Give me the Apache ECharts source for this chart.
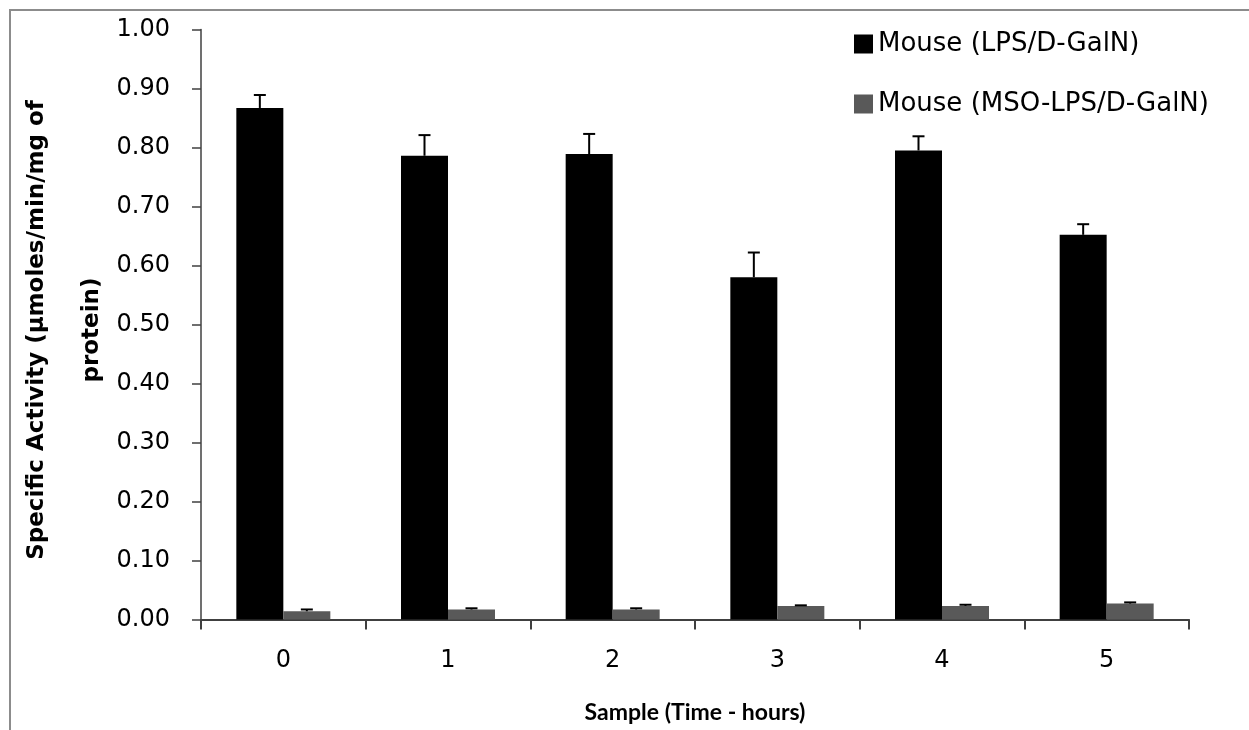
<!DOCTYPE html>
<html>
<head>
<meta charset="utf-8">
<script src="https://cdn.jsdelivr.net/npm/echarts@6/dist/echarts.min.js"></script>
<style>
html,body{margin:0;padding:0;background:#fff;}
#c{width:1249px;height:730px;}
</style>
</head>
<body>
<div id="c"></div>
<script>
const categories = ['0', '1', '2', '3', '4', '5'];
const seriesNames = ['Mouse (LPS/D-GalN)', 'Mouse (MSO-LPS/D-GalN)'];
const lpsValues = [0.867, 0.786, 0.789, 0.580, 0.795, 0.652];
const lpsErrors = [0.022, 0.035, 0.034, 0.042, 0.024, 0.018];
const msoValues = [0.014, 0.017, 0.017, 0.023, 0.023, 0.027];
const msoErrors = [0.003, 0.002, 0.002, 0.001, 0.002, 0.002];
const yTitleLines = ['Specific Activity (\u00b5moles/min/mg of', 'protein)'];
const xTitle = 'Sample (Time - hours)';

const FONT = 'DejaVu Sans';
const BAR_W = 47;

function errRenderer(offset, capHalf, lw) {
  return function (params, api) {
    const i = api.value(0);
    const v = api.value(1);
    const e = api.value(2);
    const x = api.coord([i, 0])[0] + offset;
    const yb = api.coord([i, v])[1];
    const yt = api.coord([i, v + e])[1];
    return {
      type: 'group',
      children: [
        { type: 'line', shape: { x1: x, y1: yb, x2: x, y2: yt }, style: { stroke: '#000', lineWidth: lw } },
        { type: 'line', shape: { x1: x - capHalf, y1: yt, x2: x + capHalf, y2: yt }, style: { stroke: '#000', lineWidth: lw } }
      ]
    };
  };
}

const chart = echarts.init(document.getElementById('c'), null, { renderer: 'canvas' });
chart.setOption({
  animation: false,
  backgroundColor: '#fff',
  graphic: [
    { type: 'rect', shape: { x: 10, y: 10, width: 1400, height: 900 }, style: { fill: 'none', stroke: '#8c8c8c', lineWidth: 2 }, z: -1 },
    { type: 'text', x: 37, y: 330, rotation: Math.PI / 2, style: { text: yTitleLines[0], font: 'bold 23px "' + FONT + '"', fill: '#000', align: 'center', verticalAlign: 'middle' } },
    { type: 'text', x: 92, y: 330, rotation: Math.PI / 2, style: { text: yTitleLines[1], font: 'bold 23px "' + FONT + '"', fill: '#000', align: 'center', verticalAlign: 'middle' } },
    { type: 'text', x: 695, y: 713, style: { text: xTitle, font: 'bold 23px "Lato"', fill: '#000', align: 'center', verticalAlign: 'middle' } }
  ],
  legend: {
    data: seriesNames,
    orient: 'vertical',
    left: 849,
    top: 26,
    itemWidth: 19,
    itemHeight: 19,
    itemGap: 34,
    icon: 'rect',
    textStyle: { fontFamily: FONT, fontSize: 26, color: '#000' }
  },
  grid: { left: 201, right: 60, top: 29.5, bottom: 110.5, containLabel: false },
  xAxis: {
    type: 'category',
    data: categories,
    axisLine: { lineStyle: { color: '#404040', width: 2 } },
    axisTick: { show: true, length: 10, lineStyle: { color: '#404040', width: 2 } },
    axisLabel: { fontFamily: FONT, fontSize: 24, color: '#000', margin: 29 }
  },
  yAxis: {
    type: 'value',
    min: 0,
    max: 1,
    interval: 0.1,
    axisLine: { show: true, lineStyle: { color: '#404040', width: 1.5 } },
    axisTick: { show: true, length: 9, lineStyle: { color: '#404040', width: 1.5 } },
    splitLine: { show: false },
    axisLabel: { fontFamily: FONT, fontSize: 24, color: '#000', margin: 31, formatter: v => v.toFixed(2) }
  },
  series: [
    { name: seriesNames[0], type: 'bar', data: lpsValues, barWidth: BAR_W, barGap: '0%', itemStyle: { color: '#000' } },
    { name: seriesNames[1], type: 'bar', data: msoValues, barWidth: BAR_W, barGap: '0%', itemStyle: { color: '#595959' } },
    { type: 'custom', z: 5, renderItem: errRenderer(-BAR_W / 2, 6, 2), data: lpsValues.map((v, i) => [i, v, lpsErrors[i]]) },
    { type: 'custom', z: 5, renderItem: errRenderer(BAR_W / 2, 6, 2), data: msoValues.map((v, i) => [i, v, msoErrors[i]]) }
  ]
});
</script>
</body>
</html>
